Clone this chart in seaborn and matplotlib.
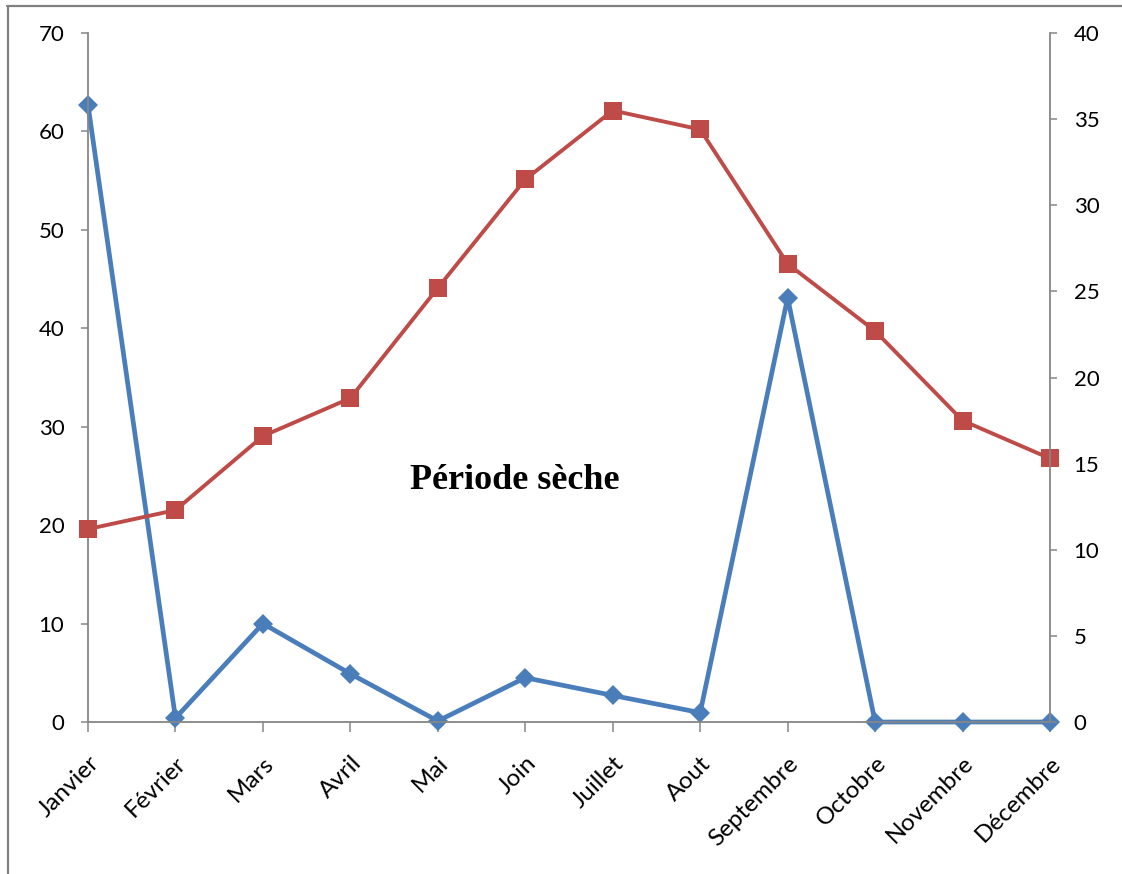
import matplotlib
matplotlib.use("Agg")
import matplotlib.pyplot as plt
from matplotlib.lines import Line2D
import seaborn as sns
import pandas as pd

months = ["Janvier", "Février", "Mars", "Avril", "Mai", "Join", "Juillet",
          "Aout", "Septembre", "Octobre", "Novembre", "Décembre"]
precipitation = [62.7, 0.4, 10.0, 4.9, 0.1, 4.5, 2.7, 0.95, 43.1, 0.0, 0.0, 0.0]
temperature = [11.2, 12.3, 16.6, 18.8, 25.2, 31.5, 35.5, 34.4, 26.6, 22.7, 17.5, 15.3]
left_ticks = [0, 10, 20, 30, 40, 50, 60, 70]
right_ticks = [0, 5, 10, 15, 20, 25, 30, 35, 40]
annotation = "Période sèche"

sns.set_style("white")
plt.rcParams["font.family"] = ["Lato", "DejaVu Sans"]

df = pd.DataFrame({
    "pos": range(len(months)),
    "P": precipitation,
    "T": temperature,
})

fig = plt.figure(figsize=(11.22, 8.74), dpi=100)
ax = fig.add_axes([88 / 1122, 1 - 722 / 874, (1050 - 88) / 1122, (722 - 33) / 874])
ax2 = ax.twinx()

blue = "#4A7EBB"
red = "#BE4B48"
axis_gray = "#868686"

sns.lineplot(data=df, x="pos", y="P", ax=ax, color=blue, lw=3.4,
             marker="D", markersize=10.5, markeredgecolor=blue,
             markeredgewidth=0, clip_on=False)
sns.lineplot(data=df, x="pos", y="T", ax=ax2, color=red, lw=2.8,
             marker="s", markersize=13, markeredgecolor=red,
             markeredgewidth=0, clip_on=False)

ax.set_xlim(0, len(months) - 1)
ax.set_ylim(0, 70)
ax2.set_ylim(0, 40)
ax.set_yticks(left_ticks)
ax2.set_yticks(right_ticks)
ax.set_xticks(range(len(months)))
ax.set_xticklabels(months, rotation=45, ha="right", rotation_mode="anchor")

for a in (ax, ax2):
    a.set_xlabel("")
    a.set_ylabel("")
    a.grid(False)
    a.spines["top"].set_visible(False)
    for s in a.spines.values():
        s.set_color(axis_gray)
        s.set_linewidth(1.3)

ax.spines["right"].set_visible(False)
ax2.spines["left"].set_visible(False)
ax2.spines["bottom"].set_visible(False)

ax.tick_params(axis="y", which="both", left=True, length=5, width=1.1,
               color=axis_gray, pad=12, labelsize=16, labelcolor="black")
ax.tick_params(axis="x", which="both", bottom=True, length=7, width=1.1,
               color=axis_gray, pad=15, labelsize=17.5, labelcolor="black")
ax2.tick_params(axis="y", which="both", right=True, length=5, width=1.1,
                color=axis_gray, pad=12, labelsize=16, labelcolor="black")

ax.text(0.444, 0.35, annotation, transform=ax.transAxes, ha="center",
        va="center", fontsize=26, fontweight="bold", color="black",
        family=["Liberation Serif", "DejaVu Serif"])

# outer frame: top and left edges of the chart area
fig.add_artist(Line2D([7 / 1122, 1.0], [1 - 6 / 874, 1 - 6 / 874],
                      transform=fig.transFigure, color="#808080", lw=1.6))
fig.add_artist(Line2D([8 / 1122, 8 / 1122], [0.0, 1 - 6 / 874],
                      transform=fig.transFigure, color="#808080", lw=1.6))

fig.savefig("out.png", dpi=100)
